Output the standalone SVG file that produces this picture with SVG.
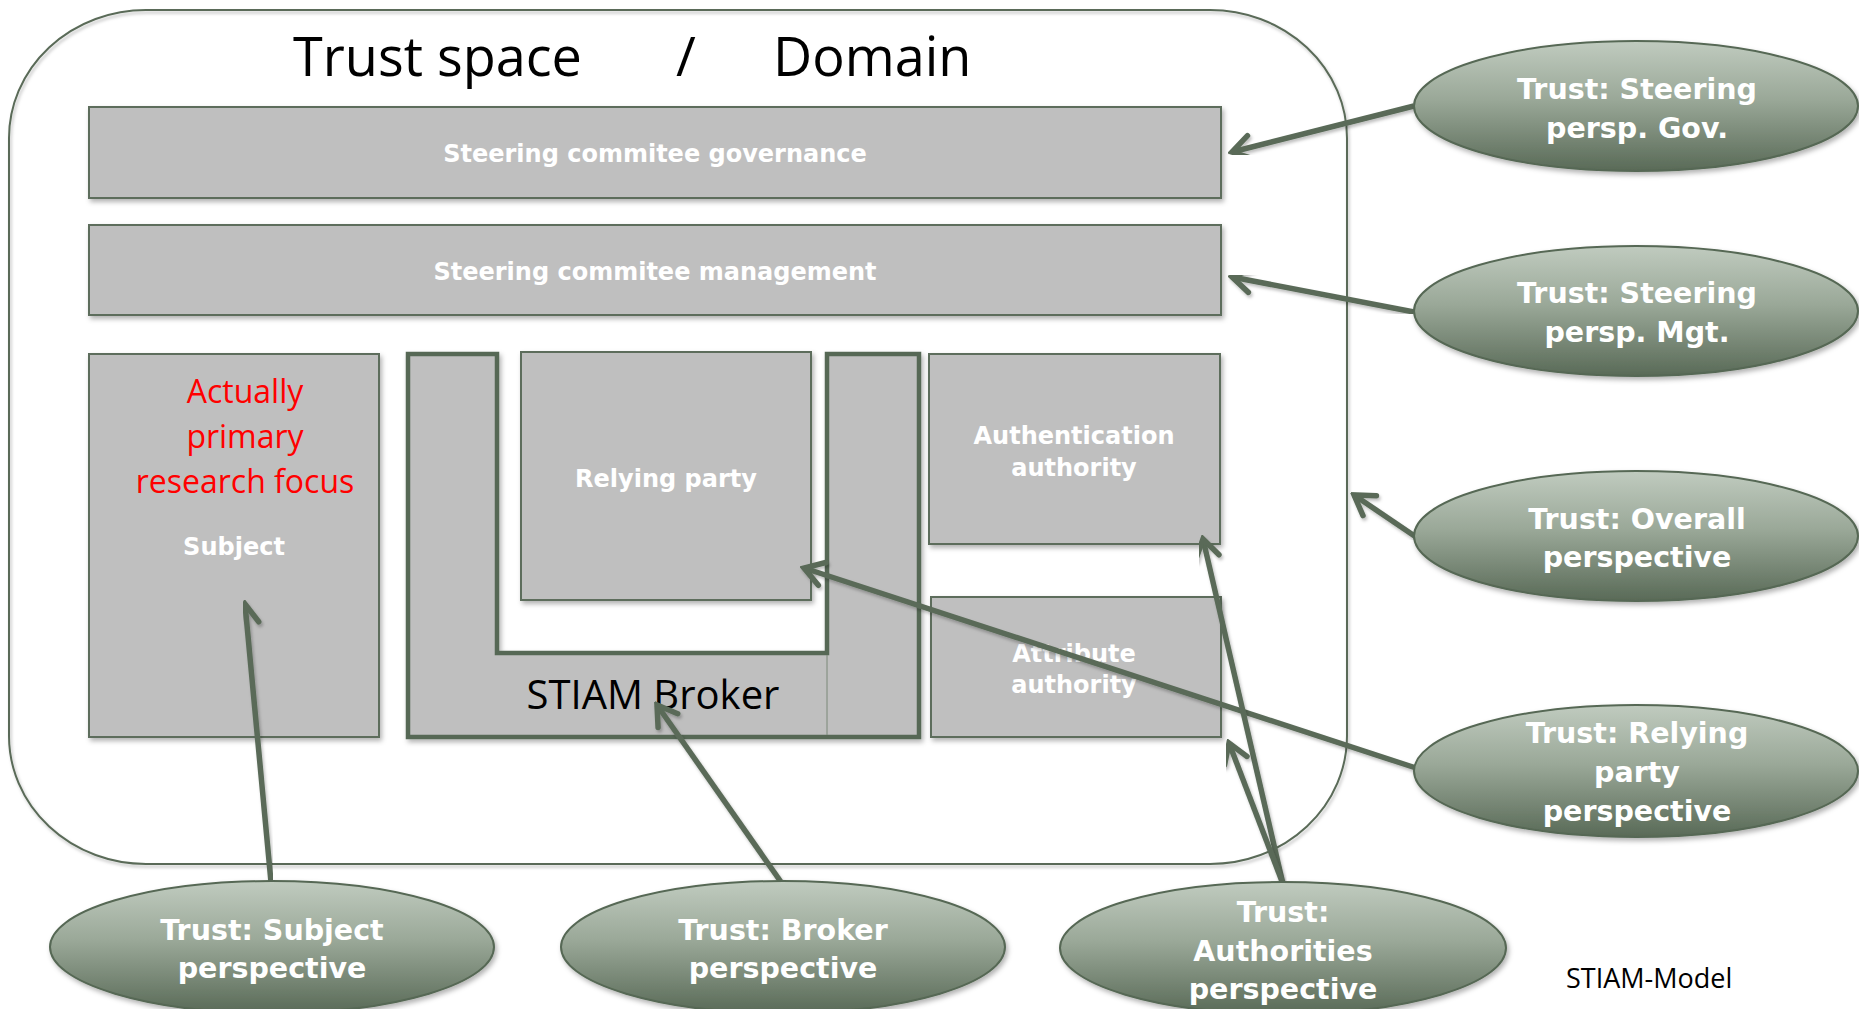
<svg xmlns="http://www.w3.org/2000/svg" width="1859" height="1009" viewBox="0 0 1859 1009">
<defs>
<linearGradient id="eg" x1="0" y1="0" x2="0" y2="1">
<stop offset="0" stop-color="#c0cbbf"/>
<stop offset="0.45" stop-color="#9aa898"/>
<stop offset="1" stop-color="#596a57"/>
</linearGradient>
<filter id="sh" x="-10%" y="-10%" width="130%" height="140%">
<feDropShadow dx="2" dy="3" stdDeviation="2.5" flood-color="#000" flood-opacity="0.3"/>
</filter>
<filter id="lsh" x="-5%" y="-5%" width="110%" height="110%">
<feDropShadow dx="1.5" dy="2.5" stdDeviation="1.5" flood-color="#000" flood-opacity="0.25"/>
</filter>
<marker id="ah" markerUnits="userSpaceOnUse" viewBox="-26 -16 30 32" refX="0" refY="0" markerWidth="30" markerHeight="32" orient="auto">
<path d="M-19,-12 L0,0 L-19,12" fill="none" stroke="#5a6b58" stroke-width="5.5" stroke-linecap="round" stroke-linejoin="miter"/>
</marker>
<style>
.box{fill:#bfbfbf;stroke:#5d6d5b;stroke-width:2;filter:url(#sh)}
.lbl{font-family:"DejaVu Sans",sans-serif;font-weight:bold;font-size:24px;fill:#ffffff;text-anchor:middle}
.ell{fill:url(#eg);stroke:#566854;stroke-width:2;filter:url(#sh)}
.et{font-family:"DejaVu Sans",sans-serif;font-weight:bold;font-size:28.5px;fill:#ffffff;text-anchor:middle}
.con{fill:none;stroke:#5a6b58;stroke-width:5.5;marker-end:url(#ah);filter:url(#lsh)}
.red{font-family:"Open Sans",sans-serif;font-size:32px;fill:#ff0000;text-anchor:middle}
</style>
</defs>
<rect width="1859" height="1009" fill="#ffffff"/>

<g id="trust-space">
<rect x="9" y="10" width="1338" height="854" rx="137" ry="128" fill="none" stroke="#5a6b58" stroke-width="2" filter="url(#lsh)"/>
<text font-family="'Open Sans',sans-serif" font-size="54" fill="#000000" y="76"><tspan x="293">Trust space</tspan><tspan x="676">/</tspan><tspan x="773">Domain</tspan></text>
</g>

<g id="governance">
<rect class="box" x="89" y="107" width="1132" height="91"/>
<text class="lbl" x="655" y="162">Steering commitee governance</text>
</g>

<g id="management">
<rect class="box" x="89" y="225" width="1132" height="90"/>
<text class="lbl" x="655" y="280">Steering commitee management</text>
</g>

<g id="subject">
<rect class="box" x="89" y="354" width="290" height="383"/>
<text class="red" x="245" y="403">Actually</text>
<text class="red" x="245" y="448">primary</text>
<text class="red" x="245" y="493">research focus</text>
<text class="lbl" x="234" y="555">Subject</text>
</g>

<g id="broker">
<path d="M408,354 L497,354 L497,653 L827,653 L827,354 L919,354 L919,737 L408,737 Z" fill="#bfbfbf" stroke="#566854" stroke-width="4.5" filter="url(#sh)"/>
<line x1="827" y1="655" x2="827" y2="735" stroke="#7a8878" stroke-width="1"/>
<text font-family="'Open Sans',sans-serif" font-size="40" fill="#000000" text-anchor="middle" x="653" y="709">STIAM Broker</text>
</g>

<g id="relying-party">
<rect class="box" x="521" y="352" width="290" height="248"/>
<text class="lbl" x="666" y="487">Relying party</text>
</g>

<g id="authentication-authority">
<rect class="box" x="929" y="354" width="291" height="190"/>
<text class="lbl" x="1074" y="444">Authentication</text>
<text class="lbl" x="1074" y="476">authority</text>
</g>

<g id="attribute-authority">
<rect class="box" x="931" y="597" width="290" height="140"/>
<text class="lbl" x="1074" y="662">Attribute</text>
<text class="lbl" x="1074" y="693">authority</text>
</g>

<g id="connectors">
<line class="con" x1="1414" y1="106" x2="1232" y2="152"/>
<line class="con" x1="1414" y1="312" x2="1232" y2="277"/>
<line class="con" x1="1416" y1="537" x2="1354" y2="495"/>
<line class="con" x1="1416" y1="768" x2="804" y2="568"/>
<line class="con" x1="1283" y1="884" x2="1203" y2="539"/>
<line class="con" x1="1283" y1="884" x2="1229" y2="743"/>
<line class="con" x1="271" y1="882" x2="245" y2="604"/>
<line class="con" x1="781" y1="882" x2="657" y2="705"/>
</g>

<g id="steering-gov">
<ellipse class="ell" cx="1636" cy="106" rx="222" ry="65"/>
<text class="et" x="1637" y="99">Trust: Steering</text>
<text class="et" x="1637" y="138">persp. Gov.</text>
</g>

<g id="steering-mgt">
<ellipse class="ell" cx="1636" cy="311" rx="222" ry="65"/>
<text class="et" x="1637" y="303">Trust: Steering</text>
<text class="et" x="1637" y="342">persp. Mgt.</text>
</g>

<g id="overall">
<ellipse class="ell" cx="1636" cy="536" rx="222" ry="65"/>
<text class="et" x="1637" y="529">Trust: Overall</text>
<text class="et" x="1637" y="567">perspective</text>
</g>

<g id="relying-persp">
<ellipse class="ell" cx="1636" cy="771" rx="222" ry="66"/>
<text class="et" x="1637" y="743">Trust: Relying</text>
<text class="et" x="1637" y="782">party</text>
<text class="et" x="1637" y="821">perspective</text>
</g>

<g id="subject-persp">
<ellipse class="ell" cx="272" cy="947" rx="222" ry="66"/>
<text class="et" x="272" y="940">Trust: Subject</text>
<text class="et" x="272" y="978">perspective</text>
</g>

<g id="broker-persp">
<ellipse class="ell" cx="783" cy="947" rx="222" ry="66"/>
<text class="et" x="783" y="940">Trust: Broker</text>
<text class="et" x="783" y="978">perspective</text>
</g>

<g id="authorities-persp">
<ellipse class="ell" cx="1283" cy="948" rx="223" ry="66"/>
<text class="et" x="1283" y="922">Trust:</text>
<text class="et" x="1283" y="961">Authorities</text>
<text class="et" x="1283" y="999">perspective</text>
</g>

<g id="caption">
<text font-family="'Open Sans',sans-serif" font-size="27" fill="#000000" x="1566" y="988">STIAM-Model</text>
</g>
</svg>
